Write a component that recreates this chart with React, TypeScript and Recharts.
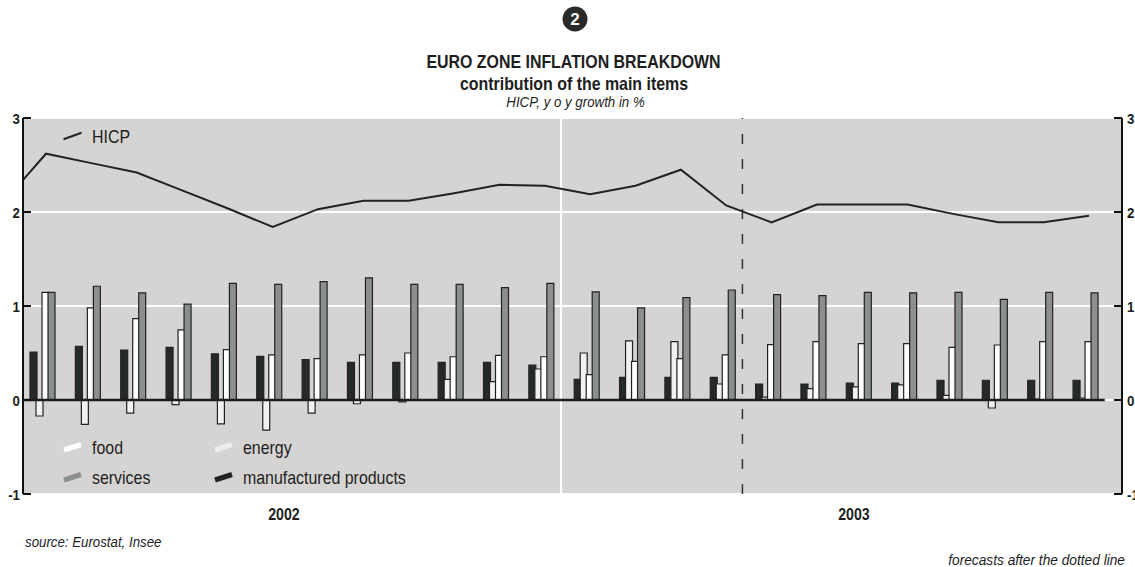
import React from 'react';
import { ComposedChart, Bar, Line, XAxis, YAxis, CartesianGrid, ReferenceLine } from 'recharts';

// month index: 0 = Dec 2001 (only for the HICP line entering the frame), 1..24 = Jan 2002 .. Dec 2003
const monthIndex = [0, 1, 2, 3, 4, 5, 6, 7, 8, 9, 10, 11, 12, 13, 14, 15, 16, 17, 18, 19, 20, 21, 22, 23, 24];
const hicp = [2.07, 2.62, 2.52, 2.42, 2.23, 2.04, 1.84, 2.03, 2.12, 2.12, 2.2, 2.29, 2.28, 2.19, 2.28, 2.45, 2.07, 1.89, 2.08, 2.08, 2.08, 1.98, 1.89, 1.89, 1.96];
const manufactured = [null, 0.51, 0.57, 0.53, 0.56, 0.49, 0.465, 0.43, 0.4, 0.4, 0.4, 0.4, 0.37, 0.22, 0.24, 0.24, 0.24, 0.17, 0.17, 0.18, 0.18, 0.21, 0.21, 0.21, 0.21];
const energy = [null, -0.17, -0.26, -0.14, -0.05, -0.255, -0.32, -0.14, -0.04, -0.02, 0.22, 0.195, 0.33, 0.5, 0.63, 0.62, 0.17, 0.03, 0.12, 0.14, 0.16, 0.05, -0.085, 0.01, 0.02];
const food = [null, 1.145, 0.98, 0.865, 0.745, 0.535, 0.48, 0.44, 0.48, 0.5, 0.46, 0.475, 0.46, 0.27, 0.41, 0.44, 0.48, 0.59, 0.62, 0.6, 0.6, 0.56, 0.585, 0.62, 0.62];
const services = [null, 1.145, 1.21, 1.14, 1.02, 1.24, 1.23, 1.26, 1.3, 1.23, 1.23, 1.195, 1.24, 1.15, 0.98, 1.09, 1.17, 1.12, 1.11, 1.145, 1.14, 1.145, 1.07, 1.145, 1.14];

const yTicks = [-1, 0, 1, 2, 3];
const yearLabels = ['2002', '2003'];
const yearTickPos = [6.32, 18.89];
const barDomain: [number, number] = [0.566, 24.8];
const lineDomain: [number, number] = [0.493, 24.727];
const yearBoundary = 12.43;
const forecastStart = 16.43;
const baselineEnd = 24.42;

const data = monthIndex.map((m, k) => ({
  m,
  hicp: hicp[k],
  manufactured: manufactured[k],
  energy: energy[k],
  food: food[k],
  services: services[k],
}));

const FONT = '"Liberation Sans", Arial, Helvetica, sans-serif';
const SQ = 0.885;

const CText = ({ x, y, size, weight, italic, anchor, children, fill }: any) => (
  <text
    transform={`translate(${x},${y}) scale(${SQ},1)`}
    fontFamily={FONT}
    fontSize={size}
    fontWeight={weight || 'normal'}
    fontStyle={italic ? 'italic' : 'normal'}
    textAnchor={anchor || 'start'}
    fill={fill || '#1e1e1e'}
  >
    {children}
  </text>
);

const LeftTick = (props: any) => {
  const { x, y, payload } = props;
  return (
    <g>
      <line x1={x + 3} x2={x + 11} y1={y} y2={y} stroke="#111" strokeWidth={2} />
      <CText x={x} y={y + 5.5} size={15} weight="bold" anchor="end">{payload.value}</CText>
    </g>
  );
};

const RightTick = (props: any) => {
  const { x, y, payload } = props;
  return (
    <g>
      <line x1={x - 5} x2={x - 13} y1={y} y2={y} stroke="#111" strokeWidth={2} />
      <CText x={x} y={y + 5.5} size={15} weight="bold" anchor="start">{payload.value}</CText>
    </g>
  );
};

const YearTick = (props: any) => {
  const { x, y, index } = props;
  return <CText x={x} y={y + 26} size={16} weight="bold" anchor="middle">{yearLabels[index]}</CText>;
};

export default function App() {
  return (
    <div style={{ position: 'absolute', left: 0, top: 0, width: 1135, height: 567, background: '#fff' }}>
      <ComposedChart
        width={1135}
        height={567}
        data={data}
        margin={{ top: 118, right: 0, bottom: 0, left: 0 }}
        barGap={-1}
      >
        <CartesianGrid vertical={false} stroke="#ffffff" strokeWidth={2} fill="#d5d4d2" fillOpacity={1} />
        <XAxis
          dataKey="m"
          type="number"
          domain={barDomain}
          allowDataOverflow
          ticks={yearTickPos}
          interval={0}
          axisLine={false}
          tickLine={false}
          tickSize={0}
          tickMargin={0}
          height={73}
          tick={<YearTick />}
        />
        <XAxis xAxisId="line" dataKey="m" type="number" domain={lineDomain} allowDataOverflow hide />
        <YAxis
          domain={[-1, 3]}
          allowDataOverflow
          ticks={yTicks}
          interval={0}
          width={23}
          axisLine={{ stroke: '#111', strokeWidth: 2 }}
          tickLine={false}
          tickSize={0}
          tickMargin={3}
          tick={<LeftTick />}
        />
        <YAxis
          yAxisId="r"
          orientation="right"
          domain={[-1, 3]}
          allowDataOverflow
          ticks={yTicks}
          interval={0}
          width={13}
          axisLine={{ stroke: '#111', strokeWidth: 2 }}
          tickLine={false}
          tickSize={0}
          tickMargin={5}
          tick={<RightTick />}
        />
        <ReferenceLine x={yearBoundary} stroke="#ffffff" strokeWidth={2} />
        <ReferenceLine x={forecastStart} stroke="#333" strokeWidth={1.5} strokeDasharray="10 15" />
        <Bar dataKey="manufactured" fill="#262929" stroke="#222" strokeWidth={1.2} barSize={7} isAnimationActive={false} />
        <Bar dataKey="energy" fill="#f1f1f1" stroke="#222" strokeWidth={1.2} barSize={7} isAnimationActive={false} />
        <Bar dataKey="food" fill="#ffffff" stroke="#222" strokeWidth={1.2} barSize={7} isAnimationActive={false} />
        <Bar dataKey="services" fill="#8b908f" stroke="#222" strokeWidth={1.2} barSize={7} isAnimationActive={false} />
        <ReferenceLine
          segment={[{ x: barDomain[0], y: 0 }, { x: baselineEnd, y: 0 }]}
          stroke="#1c1c1c"
          strokeWidth={2.5}
        />
        <Line
          xAxisId="line"
          dataKey="hicp"
          type="linear"
          stroke="#222"
          strokeWidth={2}
          dot={false}
          activeDot={false}
          isAnimationActive={false}
        />
      </ComposedChart>
      <svg
        width={1135}
        height={567}
        style={{ position: 'absolute', left: 0, top: 0, pointerEvents: 'none' }}
      >
        <circle cx={575} cy={19} r={12.5} fill="#2a2a2a" />
        <text x={575} y={25} textAnchor="middle" fontFamily={FONT} fontSize={17} fontWeight="bold" fill="#ffffff">2</text>
        <CText x={573.5} y={68} size={18} weight="bold" anchor="middle">EURO ZONE INFLATION BREAKDOWN</CText>
        <CText x={574} y={90} size={18} weight="bold" anchor="middle">contribution of the main items</CText>
        <CText x={575.5} y={107} size={15} italic anchor="middle">HICP, y o y growth in %</CText>

        <line x1={63.5} y1={139.3} x2={81.5} y2={132.7} stroke="#222" strokeWidth={2} />
        <CText x={92} y={143} size={18}>HICP</CText>

        <line x1={64} y1={450} x2={81} y2={444.5} stroke="#ffffff" strokeWidth={5} />
        <CText x={92} y={454} size={18}>food</CText>
        <line x1={215} y1={450} x2={232} y2={444.5} stroke="#ededed" strokeWidth={5} />
        <CText x={243} y={454} size={18}>energy</CText>
        <line x1={64} y1={480} x2={81} y2={474.5} stroke="#8b908f" strokeWidth={5} />
        <CText x={92} y={484} size={18}>services</CText>
        <line x1={215} y1={480} x2={232} y2={474.5} stroke="#222" strokeWidth={5} />
        <CText x={243} y={484} size={18}>manufactured products</CText>

        <CText x={25} y={547} size={15} italic>source: Eurostat, Insee</CText>
        <CText x={1125} y={565} size={15.5} italic anchor="end">forecasts after the dotted line</CText>
      </svg>
    </div>
  );
}
